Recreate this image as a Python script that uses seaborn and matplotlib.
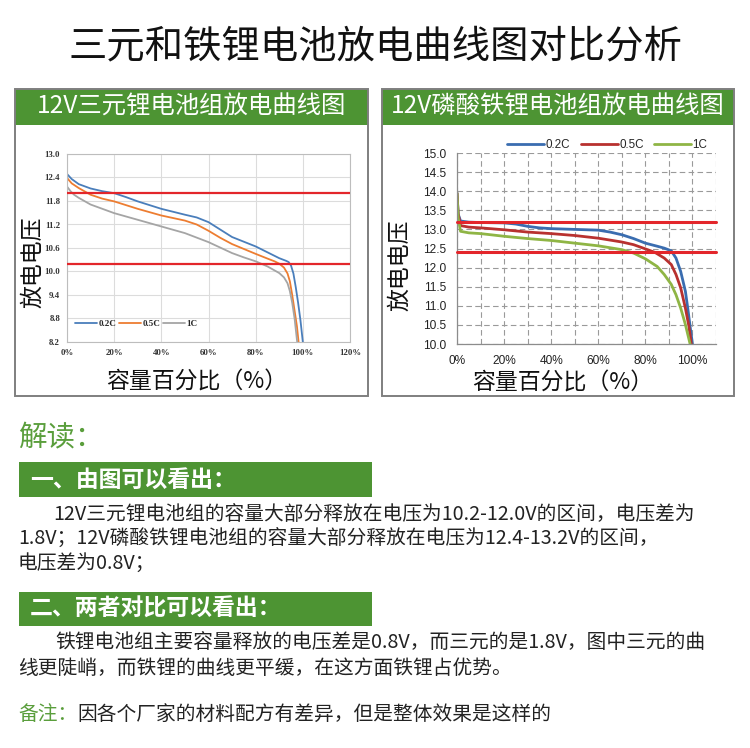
import matplotlib
matplotlib.use("Agg")
import matplotlib.pyplot as plt
import numpy as np
import pandas as pd
import seaborn as sns
from matplotlib.patches import Rectangle
from matplotlib.ticker import FuncFormatter

sns.set_style('white')
plt.rcParams['font.family'] = ['Noto Sans CJK SC', 'DejaVu Sans']

W, H = 750, 748
GREEN = '#4d9433'
GREEN_TXT = '#5a9e3c'
RED = '#e3262b'

# ---- left chart: 12V ternary (NCM) pack, capacity % vs voltage
rates = ['0.2C', '0.5C', '1C']
ncm_x_02 = [0, 2, 5, 10, 15, 20, 25, 30, 40, 50, 55, 60, 65, 70, 75, 80, 85, 90, 93, 94, 95, 96, 97, 98, 99, 100]
ncm_v_02 = [12.49, 12.36, 12.23, 12.12, 12.05, 12.0, 11.9, 11.79, 11.60, 11.45, 11.38, 11.26, 11.07, 10.88,
            10.76, 10.64, 10.49, 10.34, 10.27, 10.24, 10.15, 9.95, 9.6, 9.2, 8.75, 8.2]
ncm_x_05 = [0, 2, 5, 10, 15, 20, 30, 40, 50, 55, 60, 65, 70, 80, 85, 88, 90, 92, 93.5, 94.5, 95.5, 96.5, 97.5, 98.2]
ncm_v_05 = [12.39, 12.25, 12.13, 11.96, 11.86, 11.79, 11.60, 11.43, 11.30, 11.20, 11.04, 10.86, 10.70, 10.45,
            10.33, 10.26, 10.2, 10.1, 9.95, 9.75, 9.4, 9.0, 8.6, 8.2]
ncm_x_1 = [0, 1.5, 3, 5, 10, 20, 30, 40, 50, 60, 70, 75, 80, 85, 90, 92, 93.5, 94.5, 95.5, 96.5, 97.6]
ncm_v_1 = [12.17, 12.05, 11.96, 11.88, 11.71, 11.49, 11.32, 11.15, 10.98, 10.75, 10.47, 10.36, 10.26, 10.13,
           9.96, 9.85, 9.7, 9.5, 9.2, 8.8, 8.2]
ncm_limits = [12.0, 10.2]
ncm_yticks = [8.2, 8.8, 9.4, 10.0, 10.6, 11.2, 11.8, 12.4, 13.0]
ncm_xticks = [0, 20, 40, 60, 80, 100, 120]

# ---- right chart: 12V LiFePO4 pack
lfp_x_02 = [0, 0.5, 1.5, 5, 10, 20, 25, 30, 35, 40, 50, 60, 65, 70, 75, 80, 85, 88, 91, 93, 95, 97, 98, 99, 100]
lfp_v_02 = [13.95, 13.4, 13.22, 13.19, 13.18, 13.17, 13.14, 13.08, 13.04, 13.02, 13.0, 12.98, 12.93, 12.86,
            12.76, 12.64, 12.56, 12.51, 12.44, 12.25, 11.9, 11.38, 10.94, 10.46, 10.0]
lfp_x_05 = [0, 0.5, 1.5, 5, 10, 20, 30, 40, 50, 60, 70, 75, 80, 84, 88, 91, 93, 95, 97, 98.5, 99.5]
lfp_v_05 = [13.95, 13.4, 13.1, 13.06, 13.04, 12.99, 12.93, 12.89, 12.84, 12.77, 12.67, 12.60, 12.49, 12.40,
            12.25, 12.08, 11.82, 11.47, 10.94, 10.46, 10.0]
lfp_x_1 = [0, 0.5, 1.5, 5, 10, 20, 30, 40, 50, 60, 70, 75, 80, 85, 88, 91, 93, 95, 97, 99]
lfp_v_1 = [13.95, 13.3, 12.95, 12.91, 12.89, 12.82, 12.76, 12.71, 12.64, 12.57, 12.47, 12.38, 12.23, 12.03,
           11.82, 11.56, 11.29, 10.94, 10.51, 10.0]
lfp_limits = [13.2, 12.4]
lfp_yticks = [10.0, 10.5, 11.0, 11.5, 12.0, 12.5, 13.0, 13.5, 14.0, 14.5, 15.0]
lfp_xticks = [0, 10, 20, 30, 40, 50, 60, 70, 80, 90, 100, 110]

title = '三元和铁锂电池放电曲线图对比分析'
panel_titles = ['12V三元锂电池组放电曲线图', '12V磷酸铁锂电池组放电曲线图']
ylab = '放电电压'
xlab = '容量百分比（%）'
head1 = '一、由图可以看出：'
para1 = ['12V三元锂电池组的容量大部分释放在电压为10.2-12.0V的区间，电压差为',
         '1.8V；12V磷酸铁锂电池组的容量大部分释放在电压为12.4-13.2V的区间，',
         '电压差为0.8V；']
head2 = '二、两者对比可以看出：'
para2 = ['铁锂电池组主要容量释放的电压差是0.8V，而三元的是1.8V，图中三元的曲',
         '线更陡峭，而铁锂的曲线更平缓，在这方面铁锂占优势。']
note_key = '备注：'
note_txt = '因各个厂家的材料配方有差异，但是整体效果是这样的'


def long_frame(xs, vs):
    parts = [pd.DataFrame({'cap': x, 'volt': v, 'rate': r}) for x, v, r in zip(xs, vs, rates)]
    return pd.concat(parts, ignore_index=True)


def px(x, y):
    # pixel (from top-left) -> figure fraction
    return x / W, 1 - y / H


def box(x0, y0, x1, y1, **kw):
    fx, fy = px(x0, y1)
    fig.patches.append(Rectangle((fx, fy), (x1 - x0) / W, (y1 - y0) / H,
                                 transform=fig.transFigure, **kw))


fig = plt.figure(figsize=(7.5, 7.48), dpi=100)
fig.patch.set_facecolor('white')

fig.text(*px(376, 47), title, ha='center', va='center', fontsize=27.6, weight='medium', color='#111111')

# panel frames and green headers
for (x0, x1), t in zip([(15, 368), (382, 734)], panel_titles):
    box(x0, 89, x1, 125, facecolor=GREEN, edgecolor='none', zorder=0)
    box(x0, 89, x1, 396, facecolor='none', edgecolor='#7f7f7f', lw=1.4, zorder=1)
    fig.text(*px((x0 + x1) / 2, 107), t, ha='center', va='center', fontsize=17.6, weight='medium',
             color='white')

# ---------- left axes
axL = fig.add_axes([67 / W, 1 - 342 / H, 283 / W, 188 / H])
dfL = long_frame([ncm_x_02, ncm_x_05, ncm_x_1], [ncm_v_02, ncm_v_05, ncm_v_1])
for v in ncm_limits:
    axL.axhline(v, color=RED, lw=1.6, zorder=3)
sns.lineplot(data=dfL, x='cap', y='volt', hue='rate', palette=['#4a7ebb', '#ed7d31', '#a5a5a5'],
             estimator=None, sort=False, lw=1.3, ax=axL, zorder=2)
axL.set_xlim(0, 120)
axL.set_ylim(8.2, 13.0)
axL.set_xticks(ncm_xticks)
axL.set_yticks(ncm_yticks)
axL.xaxis.set_major_formatter(FuncFormatter(lambda v, p: f'{v:.0f}%'))
axL.yaxis.set_major_formatter(FuncFormatter(lambda v, p: f'{v:.1f}'))
axL.grid(True, color='#dcdcdc', lw=0.8)
for s in axL.spines.values():
    s.set_color('#bdbdbd')
    s.set_linewidth(0.8)
axL.tick_params(length=0, pad=5)
for lab in axL.get_xticklabels() + axL.get_yticklabels():
    lab.set_fontfamily('Liberation Serif')
    lab.set_fontweight('bold')
    lab.set_fontsize(6.3)
    lab.set_color('#333333')
axL.set_xlabel('')
axL.set_ylabel('')
axL.legend(loc='lower left', bbox_to_anchor=(0.0, 0.03), ncol=3, frameon=False, handlelength=2.4,
           handletextpad=0.2, columnspacing=0.3,
           prop={'family': 'Liberation Serif', 'weight': 'bold', 'size': 6.5})

fig.text(*px(33, 262), ylab, rotation=90, ha='center', va='center', fontsize=16.5, color='#111111')
fig.text(*px(197, 382), xlab, ha='center', va='center', fontsize=16.5, color='#111111')

# ---------- right axes
axR = fig.add_axes([457 / W, 1 - 344 / H, 259 / W, 191 / H])
dfR = long_frame([lfp_x_02, lfp_x_05, lfp_x_1], [lfp_v_02, lfp_v_05, lfp_v_1])
sns.lineplot(data=dfR, x='cap', y='volt', hue='rate', palette=['#3a6db0', '#b8312f', '#8fb545'],
             estimator=None, sort=False, lw=2.0, ax=axR, zorder=2)
for v in lfp_limits:
    axR.axhline(v, color=RED, lw=2.2, zorder=3, clip_on=False)
axR.set_xlim(0, 110)
axR.set_ylim(10, 15)
axR.set_xticks(lfp_xticks)
axR.set_yticks(lfp_yticks)
axR.set_xticklabels([f'{t}%' if t % 20 == 0 and t <= 100 else '' for t in lfp_xticks])
axR.yaxis.set_major_formatter(FuncFormatter(lambda v, p: f'{v:.1f}'))
axR.grid(True, color='#9a9a9a', lw=0.8, ls=(0, (5, 3)))
axR.spines['top'].set_visible(False)
axR.spines['right'].set_visible(False)
for s in ['left', 'bottom']:
    axR.spines[s].set_color('#8c8c8c')
    axR.spines[s].set_linewidth(0.9)
axR.tick_params(length=0, pad=8)
for lab in axR.get_xticklabels() + axR.get_yticklabels():
    lab.set_fontfamily('Liberation Sans')
    lab.set_fontsize(8.6)
    lab.set_color('#222222')
axR.set_xlabel('')
axR.set_ylabel('')
axR.legend(loc='lower right', bbox_to_anchor=(0.985, 0.985), ncol=3, frameon=False, handlelength=3.2,
           handletextpad=0.1, columnspacing=0.9, borderaxespad=0.0,
           prop={'family': 'Liberation Sans', 'size': 8.4})

fig.text(*px(400, 265), ylab, rotation=90, ha='center', va='center', fontsize=16.5, color='#111111')
fig.text(*px(563, 383), xlab, ha='center', va='center', fontsize=16.5, color='#111111')

# ---------- interpretation block
fig.text(*px(18, 437), '解读：', ha='left', va='center', fontsize=20.5, weight='medium', color=GREEN_TXT)

box(19, 462, 372, 497, facecolor=GREEN, edgecolor='none')
fig.text(*px(30, 480), head1, ha='left', va='center', fontsize=16.5, weight='bold', color='white')
for (x, y), line in zip([(53, 515), (18, 539), (18, 563)], para1):
    fig.text(*px(x, y), line, ha='left', va='center', fontsize=14.2, color='#222222')

box(19, 592, 372, 626, facecolor=GREEN, edgecolor='none')
fig.text(*px(30, 609), head2, ha='left', va='center', fontsize=16.5, weight='bold', color='white')
for (x, y), line in zip([(55, 643), (18, 668)], para2):
    fig.text(*px(x, y), line, ha='left', va='center', fontsize=14.2, color='#222222')

fig.text(*px(18, 715), note_key, ha='left', va='center', fontsize=14.2, color=GREEN_TXT)
fig.text(*px(77, 715), note_txt, ha='left', va='center', fontsize=14.2, color='#222222')

fig.savefig('out.png', dpi=100)
